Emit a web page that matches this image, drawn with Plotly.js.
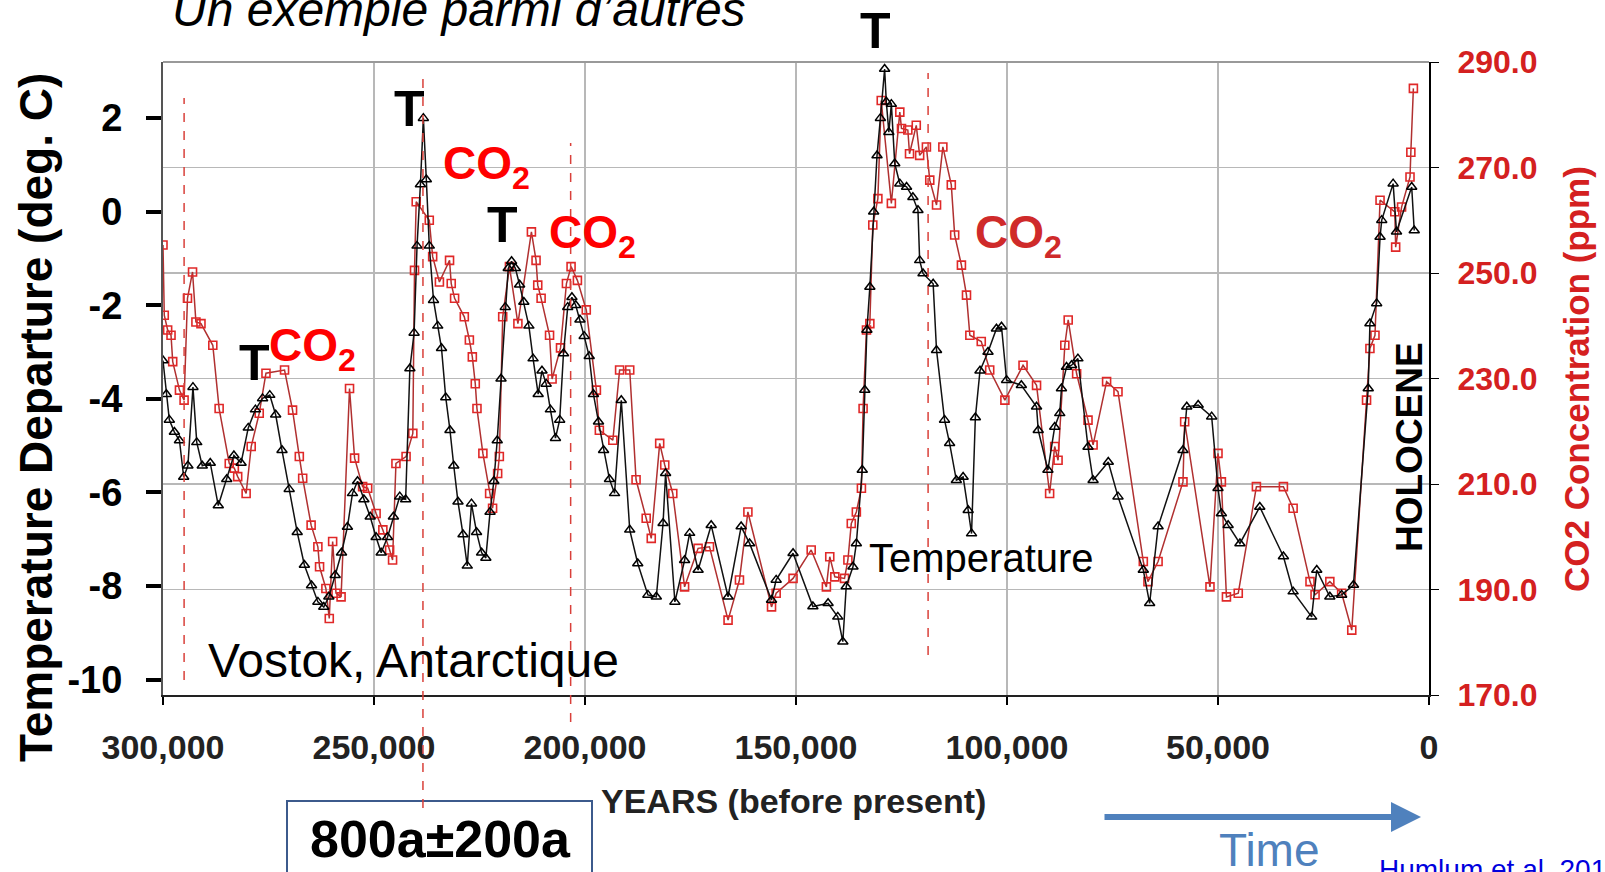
<!DOCTYPE html>
<html><head><meta charset="utf-8">
<script src="https://cdn.plot.ly/plotly-3.0.1.min.js"></script>
<style>html,body{margin:0;padding:0;background:#fff;overflow:hidden}#chart{width:1605px;height:872px}</style>
</head><body><div id="chart"></div>
<script>
// ---- Data (years before present) ----
const tempYears = [300000,299200,298500,297300,296100,295100,294100,292900,292000,290700,
288800,286900,284900,283200,281500,279800,278100,276400,274700,273300,
271800,270100,268200,266500,264800,263300,261900,260700,259200,257700,
256300,255100,253900,252400,250900,249500,248300,246800,245400,243900,
242500,241500,240500,239800,239000,238300,237600,236900,235900,234900,
234000,233000,232000,231100,230100,228900,227900,226900,225700,224500,
223500,222500,221600,220800,219900,218900,218200,217400,216500,215500,
214500,213300,212300,211100,210200,209200,208200,207000,206000,205100,
204100,203100,202200,201200,200200,199000,198000,196800,195600,194200,
193000,191400,189400,187500,185100,183100,181500,180900,178700,176400,
175200,173200,170100,166100,163000,161000,155800,154700,150700,146000,
142400,140100,138900,138100,136500,135700,134300,133700,133200,132500,
131600,130800,130000,129000,128600,128000,127400,126600,125400,123800,
122300,121100,120700,119900,117500,116700,114800,113600,112000,110400,
109200,108400,107500,106400,104500,102500,101300,100100,96600,93000,
92600,90300,88700,87500,87100,85900,84700,83200,80800,79600,
76000,73700,67700,66200,64200,58300,57400,54700,51500,50000,
49200,47600,44800,40100,34500,32200,27800,26600,23500,20700,
17900,14400,14000,12400,11600,11200,8500,7700,4100,3500];
const tempValues = [-3.18,-3.90,-4.45,-4.71,-4.89,-5.67,-5.43,-3.75,-4.93,-5.43,
-5.37,-6.28,-5.72,-5.21,-5.37,-4.62,-4.23,-3.99,-3.92,-4.34,
-5.10,-5.93,-6.85,-7.55,-7.99,-8.34,-8.45,-8.23,-7.77,-7.29,
-6.74,-6.02,-5.76,-6.15,-6.52,-6.96,-7.29,-6.96,-6.52,-6.09,
-6.15,-3.35,-2.59,-0.73,0.58,2.0,0.69,-0.73,-1.89,-2.44,
-2.92,-3.97,-4.67,-5.43,-6.20,-6.90,-7.57,-6.24,-6.85,-7.29,
-7.40,-6.42,-5.76,-4.89,-3.57,-2.04,-1.21,-1.06,-1.21,-1.56,
-1.93,-2.44,-3.14,-3.90,-3.40,-3.68,-4.23,-4.84,-4.45,-3.03,
-2.04,-1.83,-2.00,-2.31,-2.66,-3.09,-3.90,-4.49,-5.10,-5.72,
-6.02,-4.03,-6.80,-7.52,-8.19,-8.23,-6.66,-5.59,-8.34,-7.45,
-6.87,-7.66,-6.70,-8.23,-6.73,-7.09,-8.30,-7.87,-7.30,-8.44,
-8.37,-8.66,-9.19,-8.01,-7.59,-7.09,-5.52,-3.81,-2.53,-1.61,
0.0,1.2,2.0,3.05,2.35,1.7,2.3,1.03,0.60,0.53,
0.31,0.03,-1.04,-1.32,-1.54,-2.96,-4.45,-4.95,-5.74,-5.67,
-6.38,-6.88,-4.4,-3.4,-3.0,-2.5,-2.46,-3.60,-3.71,-4.17,
-4.67,-5.52,-4.60,-4.31,-3.78,-3.32,-3.28,-3.14,-5.03,-5.74,
-5.35,-6.09,-7.66,-8.37,-6.73,-5.10,-4.17,-4.13,-4.38,-5.91,
-6.45,-6.70,-7.09,-6.31,-7.37,-8.12,-8.66,-7.66,-8.23,-8.19,
-7.98,-3.78,-2.39,-1.96,-0.54,-0.18,0.60,-0.43,0.53,-0.40];

const co2Years = [300000,299700,298900,298100,297700,296100,295000,294200,293000,292200,
291000,288200,286700,284300,283100,282300,280300,279100,277200,275600,
271200,269300,267700,266900,264900,263300,262900,261400,260600,259800,
259000,257800,255800,254600,252700,251500,249500,247900,246300,245600,
244800,242400,240800,240400,240000,236900,236100,234500,232100,231700,
230900,228600,227400,226700,226000,225600,224200,222600,221900,220700,
220300,219500,217900,215900,212700,211600,211200,210400,208400,207800,
205800,204400,203300,201800,199700,197300,196600,193400,191800,189400,
187900,185500,184300,182300,181100,179200,176400,173200,170500,166100,
163400,161400,155800,154700,150700,146400,142800,142000,140800,138500,
137700,136900,135700,134500,134100,133300,132500,131800,130600,129800,
127400,125400,125000,123500,123100,121500,120700,119100,118300,116700,
115200,113200,112400,110800,109600,108800,106100,104100,100500,96200,
93000,89900,88700,87900,86300,85500,83500,80800,79600,76400,
73700,67700,66600,64200,58300,57900,51900,50000,49200,48000,
45200,40900,34500,32200,28200,27000,23500,20700,18300,14800,
14000,12800,11600,8100,7900,6500,4500,4300,3700];
const co2Values = [255.3,242.0,239.2,238.2,233.2,227.8,225.9,245.2,250.2,240.7,
240.4,236.3,224.3,213.9,213.0,211.4,208.2,217.1,223.4,231.0,
231.6,224.0,215.2,211.1,202.2,198.1,194.3,190.2,184.5,199.1,
189.3,188.6,228.1,214.9,209.5,209.2,204.4,201.3,197.5,195.6,
213.9,215.2,219.6,250.5,263.5,260.0,253.1,248.3,252.4,248.0,
245.2,241.7,237.3,234.1,229.0,224.3,215.8,208.2,205.4,212.0,
215.2,241.7,251.2,240.4,257.8,252.4,247.7,245.2,238.2,229.9,
235.8,248.0,251.2,248.6,243.0,227.8,220.2,218.3,231.6,231.6,
210.8,203.5,199.7,217.7,213.6,208.2,190.5,197.8,198.1,184.2,
191.8,204.7,186.7,189.3,192.1,197.5,190.5,196.2,192.4,192.1,
195.6,202.5,204.7,209.2,224.3,239.2,240.4,259.1,264.1,282.7,
263.2,280.5,277.4,277.1,272.6,278.0,272.3,273.9,267.6,262.9,
273.9,266.7,257.2,251.5,245.8,238.2,237.0,231.6,225.9,232.5,
228.7,208.2,217.1,214.5,236.3,241.1,230.9,222.1,217.4,229.4,
227.5,195.3,191.5,195.3,210.4,221.8,190.5,215.8,210.4,188.6,
189.3,209.5,209.5,205.4,191.5,189.0,191.5,189.3,182.3,225.9,
235.7,238.2,263.8,261.6,254.9,262.5,268.2,272.9,285.0];

const xTickVals = [300000,250000,200000,150000,100000,50000,0];
const xTickText = ['300,000','250,000','200,000','150,000','100,000','50,000','0'];
const tTickVals = [2,0,-2,-4,-6,-8,-10];
const tTickText = ['2','0','-2','-4','-6','-8','-10'];
const co2TickVals = [290,270,250,230,210,190,170];
const co2TickText = ['290.0','270.0','250.0','230.0','210.0','190.0','170.0'];
const lagLineYears = [295000,238400,203400,118700];

// ---- Layout helpers (pixel -> paper) ----
const W=1605,H=872,ML=163,MR=176,MT=62,MB=177;
const PW=W-ML-MR, PH=H-MT-MB;
const px=x=>(x-ML)/PW, py=y=>(H-MB-y)/PH;
const F='"Liberation Sans", Arial, sans-serif';
function ann(text,x,y,o){return Object.assign({text:text,xref:'paper',yref:'paper',x:px(x),y:py(y),showarrow:false,xanchor:'center',yanchor:'middle'},o||{});}

const traces=[
 {x:co2Years,y:co2Values,yaxis:'y',type:'scatter',mode:'lines+markers',
  line:{color:'#b03030',width:1.5},
  marker:{symbol:'square-open',size:8,color:'#e02828',line:{width:1.6,color:'#e02828'}}},
 {x:tempYears,y:tempValues,yaxis:'y2',type:'scatter',mode:'lines+markers',
  line:{color:'#111',width:1.5},
  marker:{symbol:'triangle-up-open',size:9,color:'#000',line:{width:1.5,color:'#000'}}}
];

const lagSpans=[[98,680],[74,808],[143,722],[73,655]];
const shapes=[
 {type:'line',xref:'paper',yref:'paper',x0:0,x1:1,y0:1,y1:1,line:{color:'#999',width:2}},
 {type:'rect',xref:'paper',yref:'paper',x0:px(287),x1:px(592),y0:py(801),y1:py(890),line:{color:'#3c5a8c',width:2},fillcolor:'rgba(0,0,0,0)'}
];
lagLineYears.forEach((yr,i)=>shapes.push({type:'line',xref:'x',yref:'paper',x0:yr,x1:yr,
  y0:py(lagSpans[i][1]),y1:py(lagSpans[i][0]),line:{color:'#d9403a',width:1.5,dash:'dash'}}));

const annotations=[
 ann('Un exemple parmi d’autres',170,10,{xanchor:'left',font:{family:F,size:48,style:'italic',color:'#000'}}),
 ann('T',409.5,109.5,{font:{family:F,size:50,weight:'bold',color:'#000'}}),
 ann('T',502.6,225,{font:{family:F,size:50,weight:'bold',color:'#000'}}),
 ann('T',254,363,{font:{family:F,size:50,weight:'bold',color:'#000'}}),
 ann('T',875,31,{font:{family:F,size:50,weight:'bold',color:'#000'}}),
 ann('CO<sub>2</sub>',486,166,{font:{family:F,size:46,weight:'bold',color:'#ff0000'}}),
 ann('CO<sub>2</sub>',592,235,{font:{family:F,size:46,weight:'bold',color:'#ff0000'}}),
 ann('CO<sub>2</sub>',312,348,{font:{family:F,size:46,weight:'bold',color:'#ff0000'}}),
 ann('CO<sub>2</sub>',1018,235,{font:{family:F,size:46,weight:'bold',color:'#cf2a2a'}}),
 ann('Temperature',981,558,{font:{family:F,size:40,color:'#000'}}),
 ann('Vostok, Antarctique',413,660,{font:{family:F,size:48,color:'#000'}}),
 ann('HOLOCENE',1409,447,{textangle:-90,font:{family:F,size:37,weight:'bold',color:'#000'}}),
 ann('Temperature Departure (deg. C)',36,418,{textangle:-90,font:{family:F,size:46,weight:'bold',color:'#000'}}),
 ann('CO2 Concentration (ppm)',1576,379,{textangle:-90,font:{family:F,size:35,weight:'bold',color:'#d42020'}}),
 ann('YEARS (before present)',793,801,{font:{family:F,size:34,weight:'bold',color:'#222'}}),
 ann('800a±200a',440,839,{font:{family:F,size:52,weight:'bold',color:'#000'}}),
 ann('Time',1269,850,{font:{family:F,size:46,color:'#4f81bd'}}),
 ann('Humlum et al. 2013',1377,869,{xanchor:'left',font:{family:F,size:28,color:'#0000dd'}}),
 {xref:'paper',yref:'paper',x:px(1421),y:py(817),ax:-318,ay:0,text:'',showarrow:true,
  arrowhead:2,arrowsize:1,arrowwidth:6,arrowcolor:'#4f81bd'}
];

const layout={
 width:W,height:H,margin:{l:ML,r:MR,t:MT,b:MB,pad:0},
 paper_bgcolor:'#fff',plot_bgcolor:'#fff',showlegend:false,
 xaxis:{range:[300000,0],tickmode:'array',tickvals:xTickVals,ticktext:xTickText,
  ticks:'outside',ticklen:8,tickwidth:1.5,tickcolor:'#000',
  showgrid:true,gridcolor:'#b8b8b8',gridwidth:1.5,zeroline:false,
  showline:true,linecolor:'#222',linewidth:2,ticklabelstandoff:13,
  tickfont:{family:F,size:34,weight:'bold',color:'#222'}},
 yaxis:{side:'right',range:[170,290],tickmode:'array',tickvals:co2TickVals,ticktext:co2TickText,
  showgrid:true,gridcolor:'#b8b8b8',gridwidth:1.5,zeroline:false,
  showline:true,linecolor:'#000',linewidth:2,ticks:'outside',ticklen:8,tickcolor:'#000',
  ticklabelstandoff:12,tickfont:{family:F,size:32,weight:'bold',color:'#d42020'}},
 yaxis2:{overlaying:'y',side:'left',range:[-10.33,3.2],tickmode:'array',tickvals:tTickVals,ticktext:tTickText,
  showgrid:false,zeroline:false,showline:true,linecolor:'#555',linewidth:2,
  ticks:'outside',ticklen:15,tickwidth:4,tickcolor:'#000',ticklabelstandoff:16,
  tickfont:{family:F,size:38,weight:'bold',color:'#000'}},
 shapes:shapes,annotations:annotations
};
Plotly.newPlot('chart',traces,layout,{displayModeBar:false,staticPlot:true});
</script></body></html>
